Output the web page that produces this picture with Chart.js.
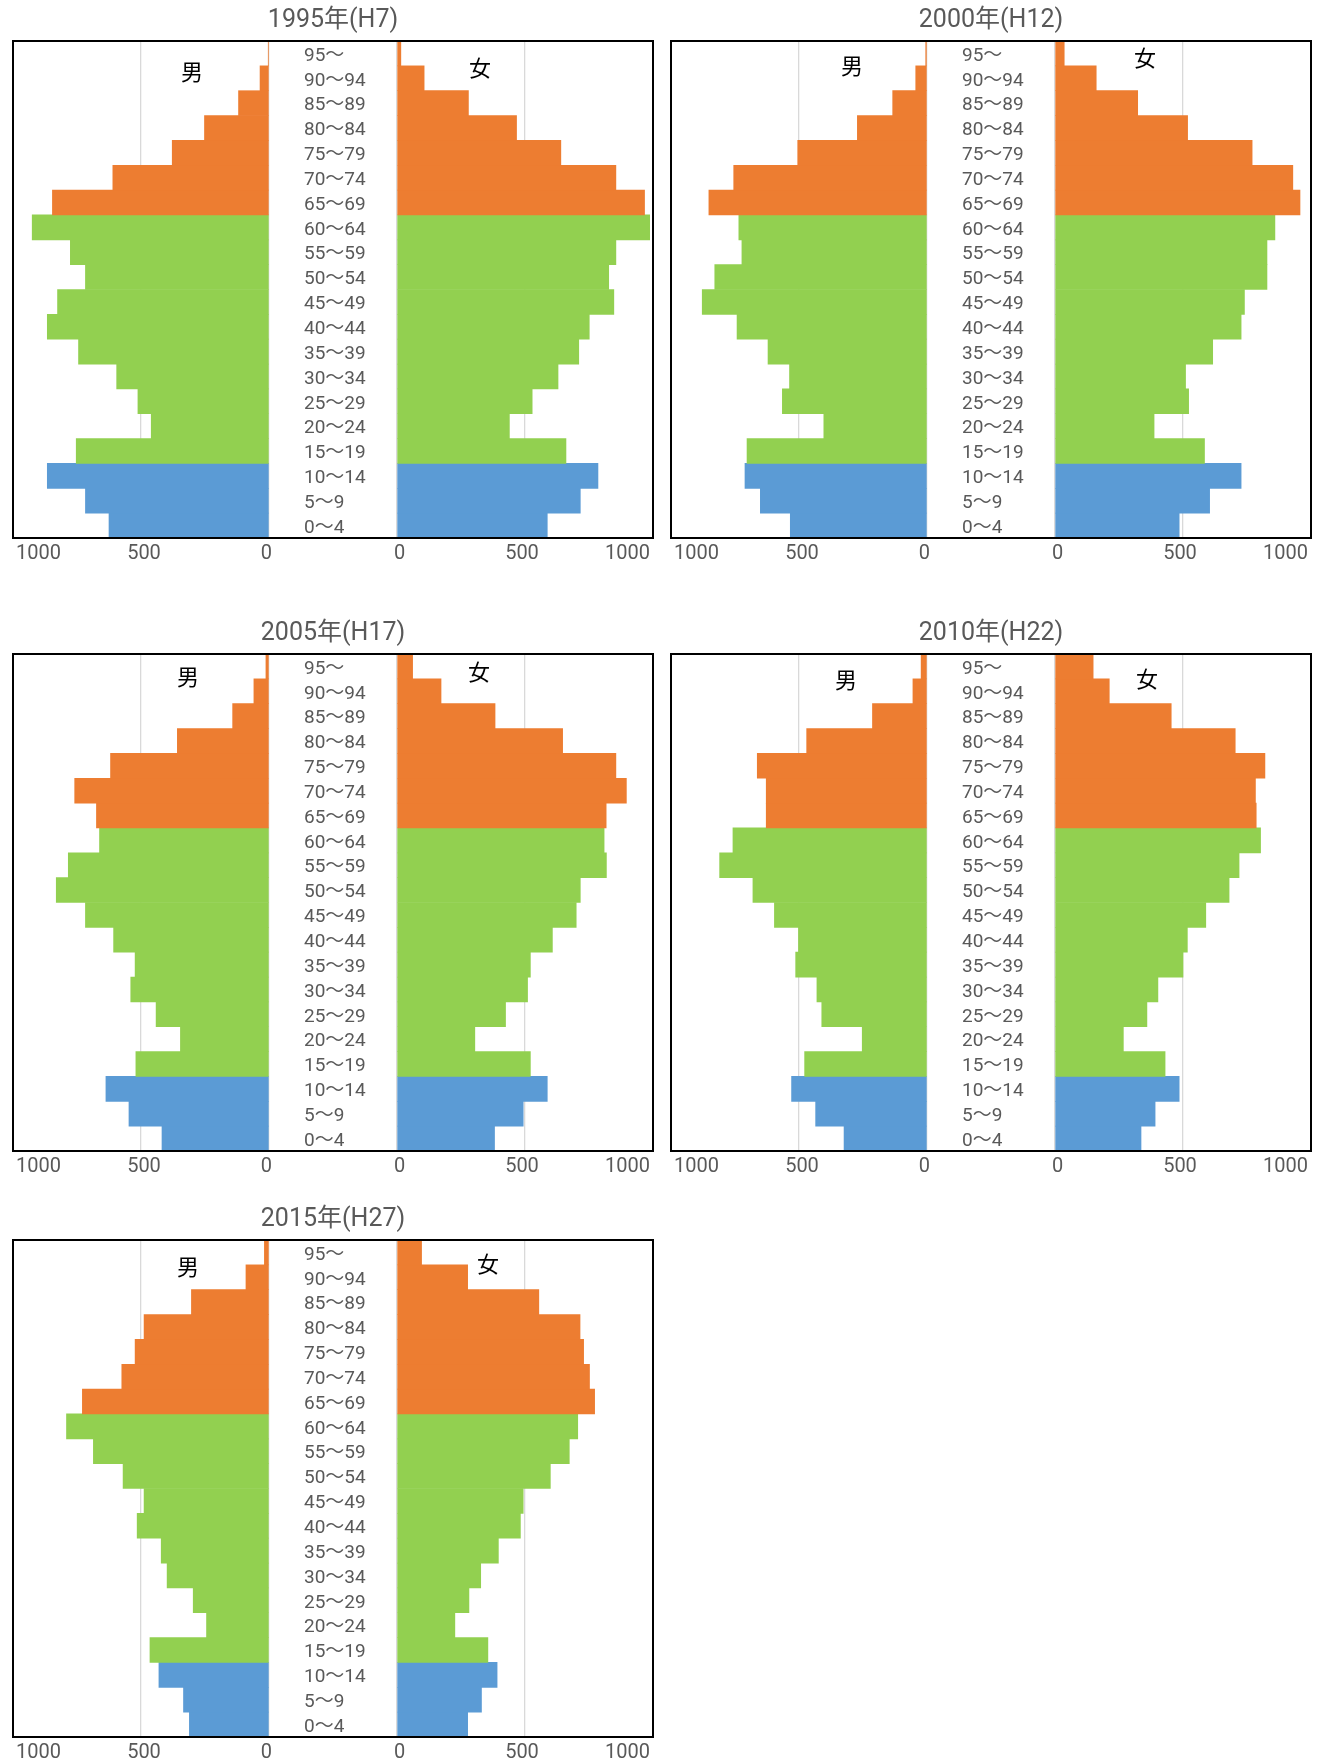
<!DOCTYPE html>
<html lang="ja">
<head>
<meta charset="utf-8">
<title>人口ピラミッド 1995年〜2015年</title>
<script src="https://cdn.jsdelivr.net/npm/chart.js@4.4.1/dist/chart.umd.min.js"></script>
<style>
  html, body { margin: 0; padding: 0; background: #ffffff; overflow: hidden; }
  body { position: relative; width: 1332px; height: 1764px; }
  canvas { position: absolute; }
</style>
</head>
<body>
<canvas id="c1995" width="666" height="570" style="left:0px;top:0px"></canvas>
<canvas id="c2000" width="666" height="570" style="left:658px;top:0px"></canvas>
<canvas id="c2005" width="666" height="570" style="left:0px;top:613px"></canvas>
<canvas id="c2010" width="666" height="570" style="left:658px;top:613px"></canvas>
<canvas id="c2015" width="666" height="570" style="left:0px;top:1199px"></canvas>
<script>
// Age groups, youngest first (drawn bottom to top)
const AGE_GROUPS = ['0～4', '5～9', '10～14', '15～19', '20～24', '25～29', '30～34', '35～39',
  '40～44', '45～49', '50～54', '55～59', '60～64', '65～69', '70～74', '75～79',
  '80～84', '85～89', '90～94', '95～'];

const TICK_VALUES = [0, 500, 1000];

const MALE_1995   = [625, 717, 866, 753, 460, 512, 595, 744, 866, 826, 717, 776, 925, 846, 610, 378, 252, 119, 35, 3];
const FEMALE_1995 = [587, 716, 785, 660, 439, 528, 629, 710, 751, 847, 827, 855, 987, 967, 855, 640, 467, 279, 106, 15];

const MALE_2000   = [534, 651, 711, 703, 403, 565, 537, 621, 742, 878, 829, 723, 735, 852, 755, 505, 272, 134, 44, 5];
const FEMALE_2000 = [485, 604, 727, 584, 387, 522, 510, 616, 727, 740, 828, 828, 859, 957, 929, 770, 518, 323, 161, 36];

const MALE_2005   = [418, 547, 637, 520, 346, 441, 540, 523, 607, 717, 831, 784, 662, 674, 759, 619, 358, 142, 59, 12];
const FEMALE_2005 = [381, 493, 587, 521, 304, 424, 510, 521, 607, 700, 716, 818, 809, 817, 896, 855, 647, 383, 172, 61];

const MALE_2010   = [324, 435, 529, 478, 253, 411, 430, 513, 502, 596, 680, 810, 758, 628, 628, 663, 470, 213, 55, 23];
const FEMALE_2010 = [336, 391, 485, 430, 267, 359, 402, 500, 517, 589, 680, 719, 803, 786, 783, 820, 704, 454, 212, 149];

const MALE_2015   = [311, 334, 430, 465, 244, 296, 398, 421, 515, 488, 570, 686, 791, 729, 575, 523, 488, 303, 90, 18];
const FEMALE_2015 = [276, 330, 391, 355, 226, 281, 327, 396, 482, 493, 599, 673, 706, 772, 752, 729, 715, 554, 276, 96];

const FONT = "Roboto, 'Noto Sans CJK JP', sans-serif";
const TEXT_GREY = '#595959';
const COLOR_YOUNG = '#5B9BD5';    // 0–14
const COLOR_WORKING = '#92D050';  // 15–64
const COLOR_OLD = '#ED7D31';      // 65+

Chart.defaults.font.family = FONT;

const barColors = AGE_GROUPS.map((_, i) => i < 3 ? COLOR_YOUNG : (i < 13 ? COLOR_WORKING : COLOR_OLD));

// Age labels in the centre column, 男/女 captions and the plot frame
const pyramidDecor = {
  id: 'pyramidDecor',
  afterDatasetsDraw(chart, args, opts) {
    const { ctx, chartArea: a } = chart;
    const yScale = chart.scales.y;
    const gap = chart.scales.xg;
    ctx.save();
    ctx.font = '19px ' + FONT;
    ctx.fillStyle = TEXT_GREY;
    ctx.textAlign = 'left';
    ctx.textBaseline = 'middle';
    yScale.ticks.forEach((t, i) => {
      ctx.fillText(yScale.getLabelForValue(t.value), gap.left + 35, yScale.getPixelForTick(i) + 2.5);
    });
    ctx.font = "22px 'Noto Sans CJK JP', sans-serif";
    ctx.fillStyle = '#000000';
    ctx.textAlign = 'center';
    ctx.fillText('男', a.left + opts.male[0], a.top + opts.male[1]);
    ctx.fillText('女', a.left + opts.female[0], a.top + opts.female[1]);
    ctx.strokeStyle = '#000000';
    ctx.lineWidth = 2;
    ctx.strokeRect(a.left, a.top, a.right - a.left, a.bottom - a.top);
    ctx.restore();
  }
};

function valueAxis(reverse, weight, labelOffset) {
  return {
    type: 'linear',
    position: 'bottom',
    stack: 'pyramid',
    stackWeight: 256,
    weight: weight,
    reverse: reverse,
    min: 0,
    max: 1000,
    afterBuildTicks: (scale) => { scale.ticks = TICK_VALUES.map(v => ({ value: v })); },
    ticks: {
      align: 'inner',
      labelOffset: labelOffset,
      padding: 4,
      autoSkip: false,
      maxRotation: 0,
      minRotation: 0,
      color: TEXT_GREY,
      font: { family: FONT, size: 20 },
      callback: (v) => String(v)
    },
    grid: { color: '#D9D9D9', lineWidth: 1.3, drawTicks: false },
    border: { display: false }
  };
}

function pyramid(canvasId, title, male, female, captions) {
  return new Chart(document.getElementById(canvasId), {
    type: 'bar',
    data: {
      labels: AGE_GROUPS,
      datasets: [
        { label: '男', data: male, xAxisID: 'xm', yAxisID: 'y', backgroundColor: barColors,
          borderWidth: 0, barPercentage: 1, categoryPercentage: 1, grouped: false },
        { label: '女', data: female, xAxisID: 'xf', yAxisID: 'y', backgroundColor: barColors,
          borderWidth: 0, barPercentage: 1, categoryPercentage: 1, grouped: false }
      ]
    },
    options: {
      indexAxis: 'y',
      responsive: false,
      animation: false,
      devicePixelRatio: 1,
      layout: { padding: { left: 13, right: 13, top: 0, bottom: 0 } },
      scales: {
        y: { type: 'category', labels: AGE_GROUPS, reverse: true, display: false, offset: true },
        xm: valueAxis(true, 0, 3),
        xg: { type: 'linear', position: 'bottom', stack: 'pyramid', stackWeight: 128, weight: 1,
              display: false, min: 0, max: 1 },
        xf: valueAxis(false, 2, -3)
      },
      plugins: {
        legend: { display: false },
        tooltip: { enabled: false },
        title: {
          display: true,
          text: title,
          color: TEXT_GREY,
          font: { family: FONT, size: 25, weight: 'normal' },
          padding: { top: 6, bottom: 5 }
        },
        pyramidDecor: captions
      }
    },
    plugins: [pyramidDecor]
  });
}

pyramid('c1995', '1995年(H7)',  MALE_1995, FEMALE_1995, { male: [179, 31], female: [467, 27] });
pyramid('c2000', '2000年(H12)', MALE_2000, FEMALE_2000, { male: [181, 25], female: [474, 17] });
pyramid('c2005', '2005年(H17)', MALE_2005, FEMALE_2005, { male: [175, 23], female: [466, 18] });
pyramid('c2010', '2010年(H22)', MALE_2010, FEMALE_2010, { male: [175, 26], female: [476, 25] });
pyramid('c2015', '2015年(H27)', MALE_2015, FEMALE_2015, { male: [175, 27], female: [475, 24] });
</script>
</body>
</html>
